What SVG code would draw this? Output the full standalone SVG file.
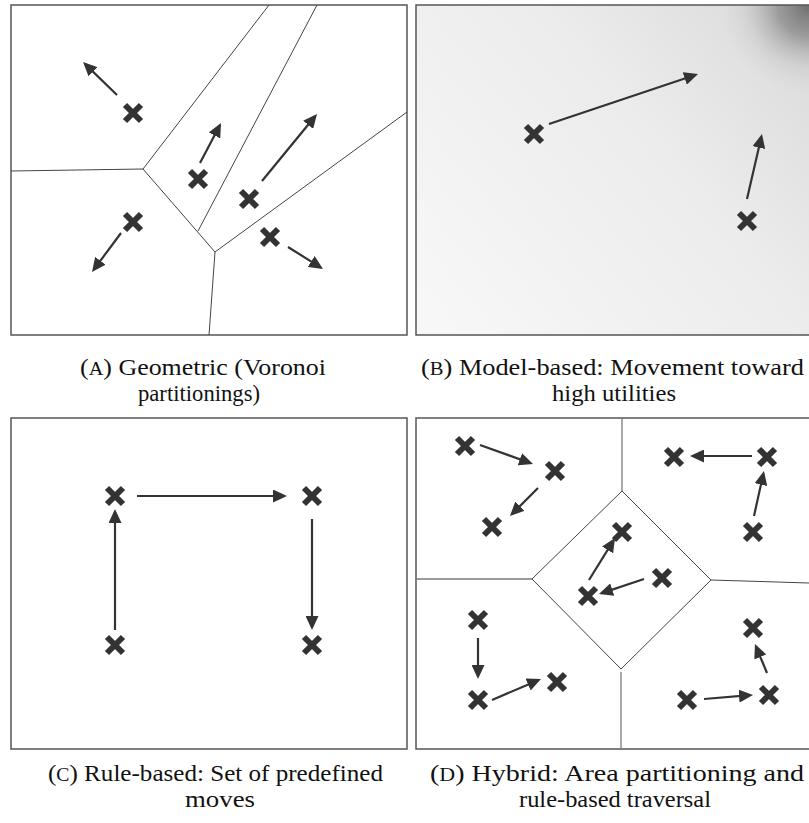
<svg xmlns="http://www.w3.org/2000/svg" xmlns:xlink="http://www.w3.org/1999/xlink" width="809" height="823" viewBox="0 0 809 823">
  <style>
    .frame { fill: #ffffff; stroke: #555555; stroke-width: 1.5; }
    .cell { fill: none; stroke: #444444; stroke-width: 1; }
    .cell-soft { fill: none; stroke: #7a7a7a; stroke-width: 1.3; }
    .agent { stroke: #333333; stroke-width: 6; fill: none; stroke-linecap: butt; }
    .move { stroke: #333333; stroke-width: 2.2; fill: none; marker-end: url(#head); }
    .cap { font-family: "Liberation Serif", "DejaVu Serif", serif; font-size: 23px; fill: #111111; }
    .sc { font-size: 18px; }
  </style>
  <defs>
    <marker id="head" markerUnits="userSpaceOnUse" viewBox="0 0 14 13" markerWidth="14" markerHeight="13" refX="11" refY="6.5" orient="auto">
      <path d="M0,0 L14,6.5 L0,13 Z" fill="#333333"/>
    </marker>
    <path id="cross" d="M-8,-8 L8,8 M8,-8 L-8,8"/>
    <linearGradient id="utilityBase" gradientUnits="userSpaceOnUse" x1="416" y1="335" x2="809" y2="5">
      <stop offset="0" stop-color="#f8f8f8"/>
      <stop offset="0.6" stop-color="#ececec"/>
      <stop offset="1" stop-color="#d9d9d9"/>
    </linearGradient>
    <radialGradient id="utilityPeak" gradientUnits="userSpaceOnUse" cx="809" cy="5" r="90">
      <stop offset="0" stop-color="#6e6e6e" stop-opacity="1"/>
      <stop offset="0.35" stop-color="#8c8c8c" stop-opacity="0.8"/>
      <stop offset="0.7" stop-color="#bdbdbd" stop-opacity="0.35"/>
      <stop offset="1" stop-color="#d5d5d5" stop-opacity="0"/>
    </radialGradient>
  </defs>

  <!-- (a) Voronoi partitioning -->
  <g id="panel-a">
    <rect class="frame" x="11" y="5" width="396" height="330"/>
    <g id="cells-a">
      <path class="cell" d="M11,171 L143,169 L269,5"/>
      <path class="cell" d="M143,169 L215,252 L209,335"/>
      <path class="cell" d="M215,252 L407,112"/>
      <path class="cell" d="M198,231 L317,5"/>
    </g>
    <g id="a-agent-1"><use href="#cross" class="agent" x="133" y="113"/></g>
    <g id="a-agent-2"><use href="#cross" class="agent" x="198" y="179"/></g>
    <g id="a-agent-3"><use href="#cross" class="agent" x="249" y="199"/></g>
    <g id="a-agent-4"><use href="#cross" class="agent" x="133" y="222"/></g>
    <g id="a-agent-5"><use href="#cross" class="agent" x="270" y="237"/></g>
    <g id="a-moves">
      <path class="move" d="M117,95 L85.2,64.1"/>
      <path class="move" d="M200,163 L219.6,125.7"/>
      <path class="move" d="M262,181 L315.1,116.3"/>
      <path class="move" d="M121,233 L93.8,269.6"/>
      <path class="move" d="M288,247 L320.5,267.4"/>
    </g>
  </g>

  <!-- (b) utility field -->
  <g id="panel-b">
    <rect x="416" y="5" width="400" height="330" fill="url(#utilityBase)"/>
    <rect x="416" y="5" width="400" height="330" fill="url(#utilityPeak)"/>
    <rect x="416" y="5" width="400" height="330" fill="none" stroke="#555555" stroke-width="1.5"/>
    <g id="b-agent-1"><use href="#cross" class="agent" x="534" y="134"/></g>
    <g id="b-agent-2"><use href="#cross" class="agent" x="747" y="221"/></g>
    <g id="b-moves">
      <path class="move" d="M549,124 L695.2,75"/>
      <path class="move" d="M747,199 L761.3,136.9"/>
    </g>
  </g>

  <!-- (c) predefined moves -->
  <g id="panel-c">
    <rect class="frame" x="11" y="418" width="396" height="331"/>
    <g id="c-agent-1"><use href="#cross" class="agent" x="115" y="496"/></g>
    <g id="c-agent-2"><use href="#cross" class="agent" x="312" y="496"/></g>
    <g id="c-agent-3"><use href="#cross" class="agent" x="115" y="645"/></g>
    <g id="c-agent-4"><use href="#cross" class="agent" x="312" y="645"/></g>
    <g id="c-moves">
      <path class="move" d="M137,496 L284,496"/>
      <path class="move" d="M312,519 L312,627"/>
      <path class="move" d="M115,630 L115,512"/>
    </g>
  </g>

  <!-- (d) hybrid -->
  <g id="panel-d">
    <rect class="frame" x="416" y="418" width="400" height="331"/>
    <g id="cells-d">
      <path class="cell-soft" d="M622,418 L622,491"/>
      <path class="cell-soft" d="M416,579 L532,579"/>
      <path class="cell" d="M622,491 L711,580 L621,669 L532,579 Z"/>
      <path class="cell" d="M711,580 L809,583"/>
      <path class="cell-soft" d="M621,672 L621,749"/>
    </g>
    <g id="d-agent-1"><use href="#cross" class="agent" x="465" y="446"/></g>
    <g id="d-agent-2"><use href="#cross" class="agent" x="555" y="471"/></g>
    <g id="d-agent-3"><use href="#cross" class="agent" x="492" y="527"/></g>
    <g id="d-agent-4"><use href="#cross" class="agent" x="674" y="457"/></g>
    <g id="d-agent-5"><use href="#cross" class="agent" x="767" y="457"/></g>
    <g id="d-agent-6"><use href="#cross" class="agent" x="753" y="532"/></g>
    <g id="d-agent-7"><use href="#cross" class="agent" x="622" y="532"/></g>
    <g id="d-agent-8"><use href="#cross" class="agent" x="662" y="578"/></g>
    <g id="d-agent-9"><use href="#cross" class="agent" x="588" y="596"/></g>
    <g id="d-agent-10"><use href="#cross" class="agent" x="478" y="620"/></g>
    <g id="d-agent-11"><use href="#cross" class="agent" x="478" y="700"/></g>
    <g id="d-agent-12"><use href="#cross" class="agent" x="557" y="682"/></g>
    <g id="d-agent-13"><use href="#cross" class="agent" x="753" y="628"/></g>
    <g id="d-agent-14"><use href="#cross" class="agent" x="769" y="695"/></g>
    <g id="d-agent-15"><use href="#cross" class="agent" x="687" y="700"/></g>
    <g id="d-moves">
      <path class="move" d="M480,445 L530.2,463"/>
      <path class="move" d="M538,488 L512.1,513.9"/>
      <path class="move" d="M752,456 L693,456"/>
      <path class="move" d="M754,516 L763.3,473.9"/>
      <path class="move" d="M589,580 L613.4,540.6"/>
      <path class="move" d="M644,579 L601.8,593.1"/>
      <path class="move" d="M478,638 L478,676"/>
      <path class="move" d="M492,700 L538.2,680.2"/>
      <path class="move" d="M704,699 L750,695.2"/>
      <path class="move" d="M767,673 L756.1,646.8"/>
    </g>
  </g>

  <!-- captions -->
  <g id="captions">
    <text class="cap" x="80" y="375" textLength="246" lengthAdjust="spacingAndGlyphs">(<tspan class="sc">A</tspan>) Geometric (Voronoi</text>
    <text class="cap" x="138" y="401" textLength="122" lengthAdjust="spacingAndGlyphs">partitionings)</text>
    <text class="cap" x="421" y="375" textLength="383" lengthAdjust="spacingAndGlyphs">(<tspan class="sc">B</tspan>) Model-based: Movement toward</text>
    <text class="cap" x="552" y="401" textLength="124" lengthAdjust="spacingAndGlyphs">high utilities</text>
    <text class="cap" x="48" y="781" textLength="335" lengthAdjust="spacingAndGlyphs">(<tspan class="sc">C</tspan>) Rule-based: Set of predefined</text>
    <text class="cap" x="185" y="807" textLength="70" lengthAdjust="spacingAndGlyphs">moves</text>
    <text class="cap" x="430" y="781" textLength="374" lengthAdjust="spacingAndGlyphs">(<tspan class="sc">D</tspan>) Hybrid: Area partitioning and</text>
    <text class="cap" x="519" y="807" textLength="192" lengthAdjust="spacingAndGlyphs">rule-based traversal</text>
  </g>
</svg>
